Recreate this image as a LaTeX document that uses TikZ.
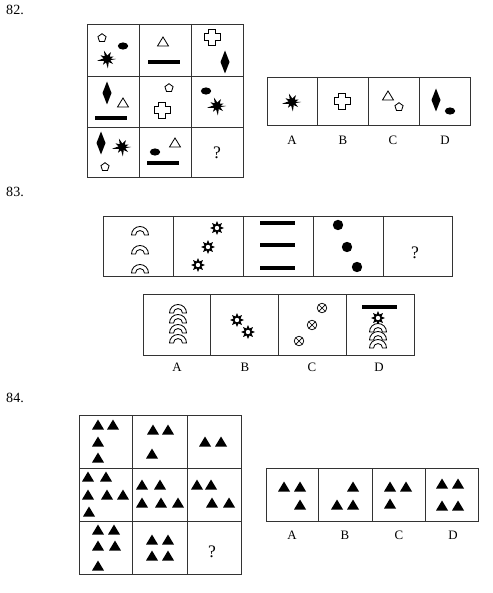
\documentclass[tikz,border=0pt]{standalone}
\usepackage{fontspec}
\setmainfont{Liberation Serif}
\usetikzlibrary{positioning}

\tikzset{
  box/.style={draw=black!80, line width=0.7pt},
  lab/.style={font=\fontsize{11}{13}\selectfont},
  num/.style={font=\fontsize{12}{14}\selectfont, anchor=west, inner sep=0pt},
  qm/.style={font=\fontsize{15}{17}\selectfont},
  % small figures used in the puzzles
  penta/.pic={\draw[line width=0.7pt] (-90:4.3) -- (-18:4.3) -- (54:4.3) -- (126:4.3) -- (198:4.3) -- cycle;},
  oval/.pic={\fill (0,0) ellipse (5.2 and 3.6);},
  tri/.pic={\draw[line width=0.7pt] (-5.5,4) -- (5.5,4) -- (0,-5) -- cycle;},
  solid/.pic={\fill (-6,4.5) -- (6,4.5) -- (0,-5.5) -- cycle;},
  kite/.pic={\fill (0,-11.5) -- (4.5,0) -- (0,11.5) -- (-4.5,0) -- cycle;},
  bar/.pic={\fill (-16,-2.2) rectangle (16,2.2);},
  longbar/.pic={\fill (-17.5,-2.2) rectangle (17.5,2.2);},
  plusbox/.pic={\draw[line width=0.8pt] (-3.2,-8) -- (3.2,-8) -- (3.2,-3.2) -- (8,-3.2) -- (8,3.2) -- (3.2,3.2)
      -- (3.2,8) -- (-3.2,8) -- (-3.2,3.2) -- (-8,3.2) -- (-8,-3.2) -- (-3.2,-3.2) -- cycle;},
  blob/.pic={\fill (0:9) \foreach \a/\r in {20/3.5,40/8,60/3.5,85/9.5,105/3.5,125/7,145/3.5,170/10,190/3.5,
      210/7.5,230/3.5,250/9,275/3.5,300/8,320/3.5,340/7,355/3.5} { -- (\a:\r) } -- cycle;},
  rainbow/.pic={\draw[fill=white, line width=0.7pt] (-8.5,0) arc (180:360:8.5) -- (4.5,0) arc (0:-180:4.5) -- cycle;},
  sun/.pic={\fill (0:7) \foreach \a in {22.5,45,...,337.5} { -- (\a:{mod(\a,45)==0 ? 7 : 3.8}) } -- cycle;
      \fill[white] (0,0) circle (2.2);},
  dotc/.pic={\fill (0,0) circle (5.2);},
  otimes/.pic={\draw[line width=0.6pt] (0,0) circle (4.8) (-3.4,-3.4) -- (3.4,3.4) (-3.4,3.4) -- (3.4,-3.4);}
}

\begin{document}
\begin{tikzpicture}[x=0.03cm, y=-0.03cm]
    \useasboundingbox (0,0) rectangle (492,593);
    % Question 82
    \node[num] (n82) at (6,10) {82.};
    \draw[box] (87,24) rectangle (243,177);
    \foreach \x in {139,191} \draw[box] (\x,24) -- (\x,177);
    \foreach \y in {76,127} \draw[box] (87,\y) -- (243,\y);
    \pic at (102,38) {penta}; \pic at (123,46) {oval}; \pic at (107,59) {blob};
    \pic at (163,42) {tri}; \pic at (164,62) {bar};
    \pic at (212,37) {plusbox}; \pic at (225,62) {kite};
    \pic at (107,93) {kite}; \pic at (123,103) {tri}; \pic at (111,118) {bar};
    \pic at (169,88) {penta}; \pic at (162,110) {plusbox};
    \pic at (206,91) {oval}; \pic at (217,106) {blob};
    \pic at (101,143) {kite}; \pic at (122,147) {blob}; \pic at (105,167) {penta};
    \pic at (155,152) {oval}; \pic at (175,143) {tri}; \pic at (163,163) {bar};
    \node[qm] (q82) at (217,153) {?};
    % answers 82
    \draw[box] (267,77) rectangle (470,125);
    \foreach \x in {317,368,419} \draw[box] (\x,77) -- (\x,125);
    \pic at (292,102) {blob};
    \pic at (342,101) {plusbox};
    \pic at (388,96) {tri}; \pic at (399,107) {penta};
    \pic at (436,100) {kite}; \pic at (450,111) {oval};
    \foreach \l/\x in {A/292,B/343,C/393,D/445} \node[lab] (a82\l) at (\x,140) {\l};

    % Question 83
    \node[num] (n83) at (6,192) {83.};
    \draw[box] (103,216) rectangle (452,276);
    \foreach \x in {173,243,313,383} \draw[box] (\x,216) -- (\x,276);
    \foreach \y in {235,254,273} \pic at (140,\y) {rainbow};
    \pic at (217,228) {sun}; \pic at (208,247) {sun}; \pic at (198,265) {sun};
    \foreach \y in {223,245,268} \pic at (277.5,\y) {longbar};
    \pic at (338,225) {dotc}; \pic at (347,247) {dotc}; \pic at (357,267) {dotc};
    \node[qm] (q83) at (415,253) {?};
    % answers 83
    \draw[box] (143,294) rectangle (414,355);
    \foreach \x in {210,278,346} \draw[box] (\x,294) -- (\x,355);
    \foreach \y in {313,323,333,343} \pic at (178,\y) {rainbow};
    \pic at (237,320) {sun}; \pic at (248,332) {sun};
    \pic at (322,308) {otimes}; \pic at (312,325) {otimes}; \pic at (299,341) {otimes};
    \pic at (379.5,307) {longbar}; \pic at (378,318) {sun};
    \foreach \y in {332,340,348} \pic at (378,\y) {rainbow};
    \foreach \l/\x in {A/177,B/245,C/312,D/379} \node[lab] (a83\l) at (\x,367) {\l};

    % Question 84
    \node[num] (n84) at (6,398) {84.};
    \draw[box] (79,415) rectangle (241,574);
    \foreach \x in {132,187} \draw[box] (\x,415) -- (\x,574);
    \foreach \y in {468,521} \draw[box] (79,\y) -- (241,\y);
    \foreach \p in {(98,425),(113,425),(98,442),(98,458),
                    (153,430),(168,430),(152,454),
                    (205,442),(221,442),
                    (88,477),(106,477),(88,495),(107,495),(123,495),(89,512),
                    (142,485),(160,485),(142,503),(161,503),(178,503),
                    (197,485),(211,485),(212,503),(229,503),
                    (98,530),(114,530),(98,546),(115,546),(98,566),
                    (152,540),(168,540),(152,556),(168,556)}
        \pic at \p {solid};
    \node[qm] (q84) at (212,552) {?};
    % answers 84
    \draw[box] (266,468) rectangle (478,521);
    \foreach \x in {318,372,425} \draw[box] (\x,468) -- (\x,521);
    \foreach \p in {(284,487),(300,487),(300,505),
                    (353,487),(337,505),(353,505),
                    (390,487),(406,487),(390,504),
                    (442,484),(458,484),(442,506),(458,506)}
        \pic at \p {solid};
    \foreach \l/\x in {A/292,B/345,C/399,D/453} \node[lab] (a84\l) at (\x,535) {\l};
\end{tikzpicture}
\end{document}
